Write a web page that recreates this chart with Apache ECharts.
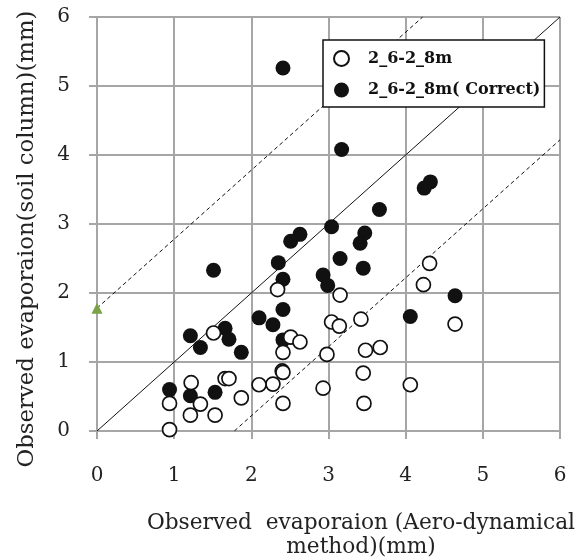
<!DOCTYPE html>
<html>
<head>
<meta charset="utf-8">
<script src="https://cdn.jsdelivr.net/npm/echarts@6/dist/echarts.min.js"></script>
<style>
html,body{margin:0;padding:0;background:#fff;}
#c{width:584px;height:560px;}
</style>
</head>
<body>
<div id="c"></div>
<script>
// Axis ticks
const xTicks = [0, 1, 2, 3, 4, 5, 6];
const yTicks = [0, 1, 2, 3, 4, 5, 6];

// Series names
const openName = '2_6-2_8m';
const filledName = '2_6-2_8m( Correct)';

// Open circles: 2_6-2_8m  [observed aero-dynamical, observed soil column]
const openX = [4.31, 4.23, 2.34, 3.15, 4.64, 3.04, 3.14, 3.42, 1.51, 2.51, 2.63, 3.67, 3.48, 2.41, 2.98, 2.40, 2.41, 3.45, 1.66, 1.71, 1.22, 2.28, 2.10, 4.06, 2.93, 1.87, 0.94, 2.41, 3.46, 1.34, 1.21, 1.53, 0.94];
const openY = [2.43, 2.12, 2.05, 1.97, 1.55, 1.58, 1.52, 1.62, 1.42, 1.36, 1.29, 1.21, 1.17, 1.14, 1.11, 0.87, 0.85, 0.84, 0.76, 0.76, 0.70, 0.68, 0.67, 0.67, 0.62, 0.48, 0.40, 0.40, 0.40, 0.39, 0.23, 0.23, 0.02];

// Filled circles: 2_6-2_8m(Correct)
const filledX = [2.41, 3.17, 4.32, 4.24, 3.66, 3.04, 2.63, 2.51, 3.47, 3.41, 3.15, 2.35, 1.51, 3.45, 2.93, 2.41, 2.99, 4.64, 2.41, 4.06, 2.10, 2.28, 1.66, 1.21, 2.41, 1.71, 1.34, 1.87, 0.94, 1.53, 1.21];
const filledY = [5.26, 4.08, 3.61, 3.52, 3.21, 2.96, 2.85, 2.75, 2.87, 2.72, 2.50, 2.44, 2.33, 2.36, 2.26, 2.20, 2.11, 1.96, 1.76, 1.66, 1.64, 1.54, 1.49, 1.38, 1.32, 1.33, 1.21, 1.14, 0.60, 0.56, 0.51];

// Reference lines
const lineOneToOne = [[0, 0], [6, 6]];
const lineUpper = [[0, 1.78], [4.22, 6]];
const lineLower = [[1.78, 0], [6, 4.22]];
const markerTriangle = [[0, 1.78]];

const pairs = (xs, ys) => xs.map((x, i) => [x, ys[i]]);

const FONT = 'DejaVu Serif';
const chart = echarts.init(document.getElementById('c'), null, {renderer: 'canvas'});

const axisCommon = {
  type: 'value', min: 0, max: 6, interval: 1,
  axisLine: {show: true, lineStyle: {color: '#a6a6a6', width: 2}},
  axisTick: {show: true, inside: false, length: 8, lineStyle: {color: '#a6a6a6', width: 2}},
  splitLine: {show: true, lineStyle: {color: '#a6a6a6', width: 2}}
};

chart.setOption({
  backgroundColor: '#fff',
  animation: false,
  grid: {left: 97, right: 24, top: 17, bottom: 129, containLabel: false, outerBoundsMode: 'none'},
  xAxis: Object.assign({}, axisCommon, {
    name: 'Observed  evaporaion (Aero-dynamical\nmethod)(mm)',
    nameLocation: 'middle',
    nameGap: 80,
    nameTextStyle: {color: '#222', fontFamily: FONT, fontSize: 21.7, lineHeight: 24, padding: [0, 0, 0, 65]},
    axisLabel: {color: '#222', fontFamily: FONT, fontSize: 20, margin: 35, formatter: v => xTicks.includes(v) ? String(v) : ''}
  }),
  yAxis: Object.assign({}, axisCommon, {
    name: 'Observed evaporaion(soil column)(mm)',
    nameLocation: 'middle',
    nameGap: 58,
    nameTextStyle: {color: '#222', fontFamily: FONT, fontSize: 22.8, padding: [0, 30, 0, 0]},
    axisLabel: {color: '#222', fontFamily: FONT, fontSize: 20, margin: 27, formatter: v => yTicks.includes(v) ? String(v) : ''}
  }),
  legend: {
    data: [openName, filledName],
    orient: 'vertical',
    left: 323, top: 40,
    padding: [10, 4, 9, 10],
    itemGap: 15,
    itemWidth: 15, itemHeight: 15,
    borderColor: '#111', borderWidth: 1.5,
    backgroundColor: '#fff',
    textStyle: {color: '#111', fontFamily: FONT, fontSize: 16, fontWeight: 'bold', padding: [0, 0, 0, 14]}
  },
  series: [
    {type: 'line', data: lineOneToOne, symbol: 'none', silent: true, z: 1,
     lineStyle: {color: '#111', width: 1}},
    {type: 'line', data: lineUpper, symbol: 'none', silent: true, z: 1,
     lineStyle: {color: '#111', width: 1, type: [4, 3]}},
    {type: 'line', data: lineLower, symbol: 'none', silent: true, z: 1,
     lineStyle: {color: '#111', width: 1, type: [4, 3]}},
    {name: filledName, type: 'scatter', data: pairs(filledX, filledY), symbol: 'circle', symbolSize: 15, z: 3,
     itemStyle: {color: '#111', borderColor: '#111', borderWidth: 0, opacity: 1}},
    {name: openName, type: 'scatter', data: pairs(openX, openY), symbol: 'circle', symbolSize: 14, z: 4,
     itemStyle: {color: '#fff', borderColor: '#111', borderWidth: 1.7, opacity: 1}},
    {type: 'scatter', data: markerTriangle, symbol: 'triangle', symbolSize: 11, z: 5, clip: false,
     itemStyle: {color: '#79a346', opacity: 1}}
  ]
});
</script>
</body>
</html>
